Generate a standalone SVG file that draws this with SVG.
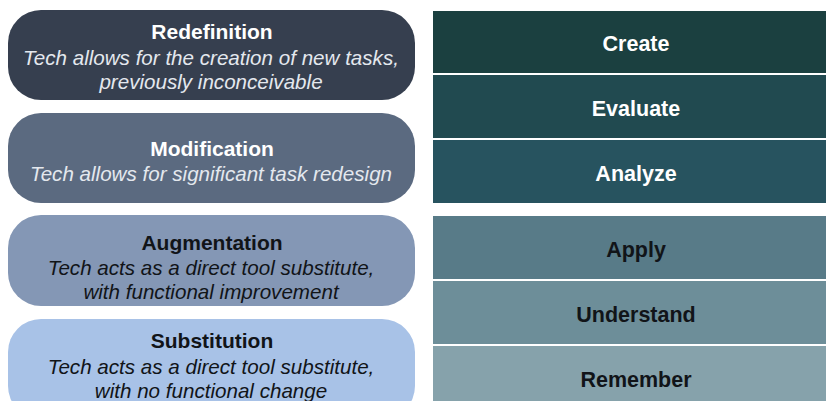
<svg xmlns="http://www.w3.org/2000/svg" width="826" height="401" viewBox="0 0 826 401">
<style>
.t{font-family:"Liberation Sans",Arial,sans-serif;font-weight:bold;font-size:21px;text-anchor:middle}
.s{font-family:"Liberation Sans",Arial,sans-serif;font-style:italic;font-size:20.6px;text-anchor:middle}
.w{fill:#ffffff}
.sw{fill:#e4e8ee}
.k{fill:#111418}
.b{font-family:"Liberation Sans",Arial,sans-serif;font-weight:bold;font-size:21.5px;text-anchor:middle}
</style>
<rect width="826" height="401" fill="#ffffff"/>
<g id="redefinition">
<rect x="8" y="10" width="407" height="90" rx="33" fill="#363f4f"/>
<text class="t w" x="212" y="39">Redefinition</text>
<text class="s sw" x="211" y="65">Tech allows for the creation of new tasks,</text>
<text class="s sw" x="211" y="89">previously inconceivable</text>
</g>
<g id="modification">
<rect x="8" y="113" width="407" height="90" rx="33" fill="#5b6a80"/>
<text class="t w" x="212" y="156">Modification</text>
<text class="s sw" x="211" y="181">Tech allows for significant task redesign</text>
</g>
<g id="augmentation">
<rect x="8" y="215" width="407" height="91" rx="33" fill="#8497b5"/>
<text class="t k" x="212" y="250">Augmentation</text>
<text class="s k" x="211" y="275">Tech acts as a direct tool substitute,</text>
<text class="s k" x="211" y="299">with functional improvement</text>
</g>
<g id="substitution">
<rect x="8" y="319" width="407" height="100" rx="33" fill="#a8c2e7"/>
<text class="t k" x="212" y="348">Substitution</text>
<text class="s k" x="211" y="374">Tech acts as a direct tool substitute,</text>
<text class="s k" x="211" y="398">with no functional change</text>
</g>
<g id="create">
<rect x="433" y="11" width="393" height="62" fill="#1b4040"/>
<text class="b w" x="636" y="51">Create</text>
</g>
<g id="evaluate">
<rect x="433" y="75" width="393" height="63" fill="#214a50"/>
<text class="b w" x="636" y="116">Evaluate</text>
</g>
<g id="analyze">
<rect x="433" y="140" width="393" height="63" fill="#27535f"/>
<text class="b w" x="636" y="181">Analyze</text>
</g>
<g id="apply">
<rect x="433" y="216" width="393" height="63" fill="#587b88"/>
<text class="b k" x="636" y="257">Apply</text>
</g>
<g id="understand">
<rect x="433" y="281" width="393" height="63" fill="#6d8e99"/>
<text class="b k" x="636" y="322">Understand</text>
</g>
<g id="remember">
<rect x="433" y="346" width="393" height="60" fill="#86a2ab"/>
<text class="b k" x="636" y="387">Remember</text>
</g>
<g id="connectors"></g>
</svg>
